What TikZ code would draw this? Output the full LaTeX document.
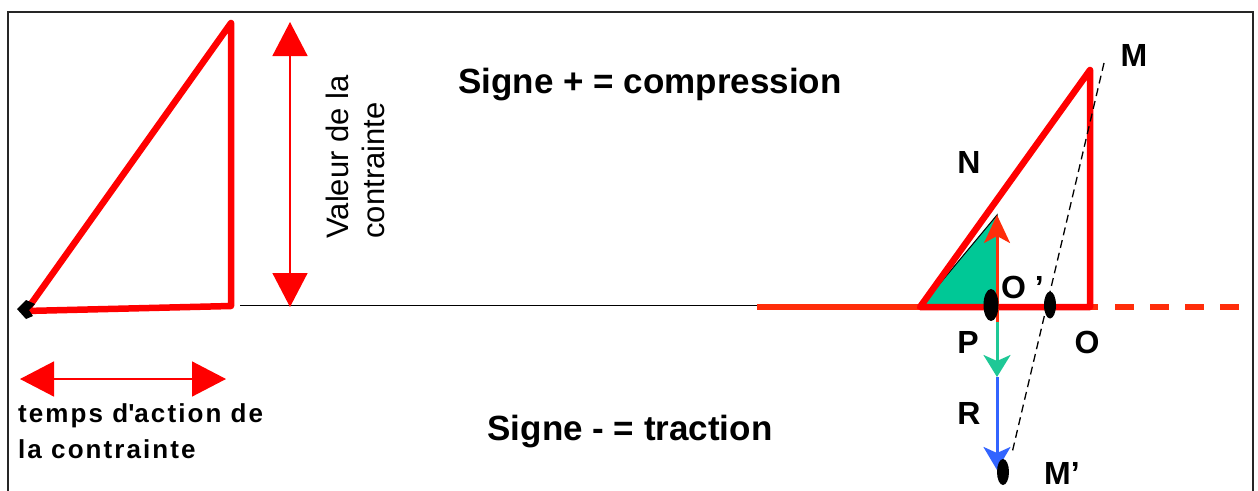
\documentclass[tikz,border=0pt]{standalone}
\usepackage{fontspec}
\setmainfont{Liberation Sans}
\usetikzlibrary{arrows.meta}
\definecolor{cred}{RGB}{255,0,0}
\definecolor{ored}{RGB}{255,45,10}
\definecolor{tgreen}{RGB}{0,200,150}
\definecolor{agreen}{RGB}{30,200,150}
\definecolor{ablue}{RGB}{50,100,255}
\tikzset{
  thickred/.style={draw=cred, line width=6.5pt, line join=round, line cap=round},
  orangeline/.style={draw=ored, line width=6pt},
  lbl/.style={font=\fontsize{32}{36}\selectfont\bfseries, inner sep=0pt},
  bigtxt/.style={font=\fontsize{35}{40}\selectfont\bfseries, inner sep=0pt, anchor=base},
  smalltxt/.style={font=\fontsize{26}{30}\selectfont\bfseries\addfontfeature{LetterSpace=8}, inner sep=0pt, anchor=base west},
  dimarrow/.style={draw=cred, line width=1.5pt, {Triangle[length=34pt,width=35pt]}-{Triangle[length=34pt,width=35pt]}},
  dot/.style={fill=black},
}
\begin{document}
\begin{tikzpicture}[x=1pt,y=1pt]
\useasboundingbox (0,0) rectangle (1258,-490);
\fill[white] (0,0) rectangle (1258,-490);
% frame
\draw[line width=2.5pt, black!85] (8,-520) -- (8,-12) -- (1253,-12) -- (1253,-520);

% left triangle
\coordinate (la) at (26,-311);
\coordinate (lb) at (231,-23);
\coordinate (lc) at (231,-306);
\draw[thickred] (la) -- (lb) -- (lc) -- cycle;
\fill[black] (17,-309) -- (26,-300) -- (35,-304) -- (29,-310) -- (33,-316) -- (26,-319) -- cycle;

% baseline
\coordinate (bl1) at (240,-305);
\coordinate (bl2) at (801,-305);
\draw[line width=1pt, black] (bl1) -- (bl2);

% dimension arrows
\coordinate (v1) at (290,-22);
\coordinate (v2) at (290,-307);
\draw[dimarrow] (v1) -- (v2);
\coordinate (h1) at (20,-379);
\coordinate (h2) at (226,-379);
\draw[dimarrow] (h1) -- (h2);

\node[rotate=90, align=left, inner sep=0pt, font=\fontsize{31}{36}\selectfont] (val) at (355,-157) {Valeur de la\\contrainte};
\node[smalltxt] (t1) at (18,-422) {temps d\textquotesingle action de};
\node[smalltxt] (t2) at (18,-458) {la contrainte};

\node[bigtxt] (sp) at (650,-93) {Signe + = compression};
\node[bigtxt] (sm) at (630,-440) {Signe - = traction};

% right figure
\coordinate (r0) at (757,-307);
\coordinate (ra) at (920,-307);
\coordinate (rm) at (1090,-70);
\coordinate (ro) at (1090,-307);
\draw[orangeline] (r0) -- (ra);
\draw[orangeline] (ro) -- (1098,-307);
\draw[ored, line width=6pt, dash pattern=on 19pt off 16pt] (1115,-307) -- (1242,-307);

% green triangle
\coordinate (ga) at (922,-305);
\coordinate (gn) at (997,-215);
\coordinate (gp) at (997,-305);
\filldraw[fill=tgreen, draw=black, line width=1pt] (ga) -- (gn) -- (gp) -- cycle;

\draw[thickred] (ra) -- (rm) -- (ro) -- cycle;

% vectors
\coordinate (base) at (997,-322);
\coordinate (gtip) at (997,-377);
\coordinate (btip) at (997,-470);
\draw[ored, line width=3pt, -{Stealth[length=28pt,width=26pt,inset=7pt]}] (base) -- (gn);
\draw[ablue, line width=3pt, -{Stealth[length=23pt,width=27pt,inset=6pt]}] (gtip) -- (btip);
\draw[agreen, line width=3pt, -{Stealth[length=22pt,width=27pt,inset=6pt]}] (base) -- (gtip);

% dashed construction line
\coordinate (dm) at (1104,-63);
\coordinate (dmp) at (1012,-453);
\draw[black, line width=1.3pt, dash pattern=on 8pt off 5pt] (dm) -- (dmp);

% points
\fill[dot] (991,-305) ellipse [x radius=7.5pt, y radius=16pt];
\fill[dot] (1050,-305) ellipse [x radius=6pt, y radius=13.5pt];
\fill[dot] (1003,-472) ellipse [x radius=6pt, y radius=13pt];

% labels
\node[lbl] (lM) at (1134,-55) {M};
\node[lbl] (lN) at (969,-162) {N};
\node[lbl, anchor=west] (lO2) at (1001,-287) {O ’};
\node[lbl] (lP) at (968,-342) {P};
\node[lbl] (lO) at (1087,-342) {O};
\node[lbl] (lR) at (969,-413) {R};
\node[lbl] (lM2) at (1062,-473) {M’};
\end{tikzpicture}
\end{document}
